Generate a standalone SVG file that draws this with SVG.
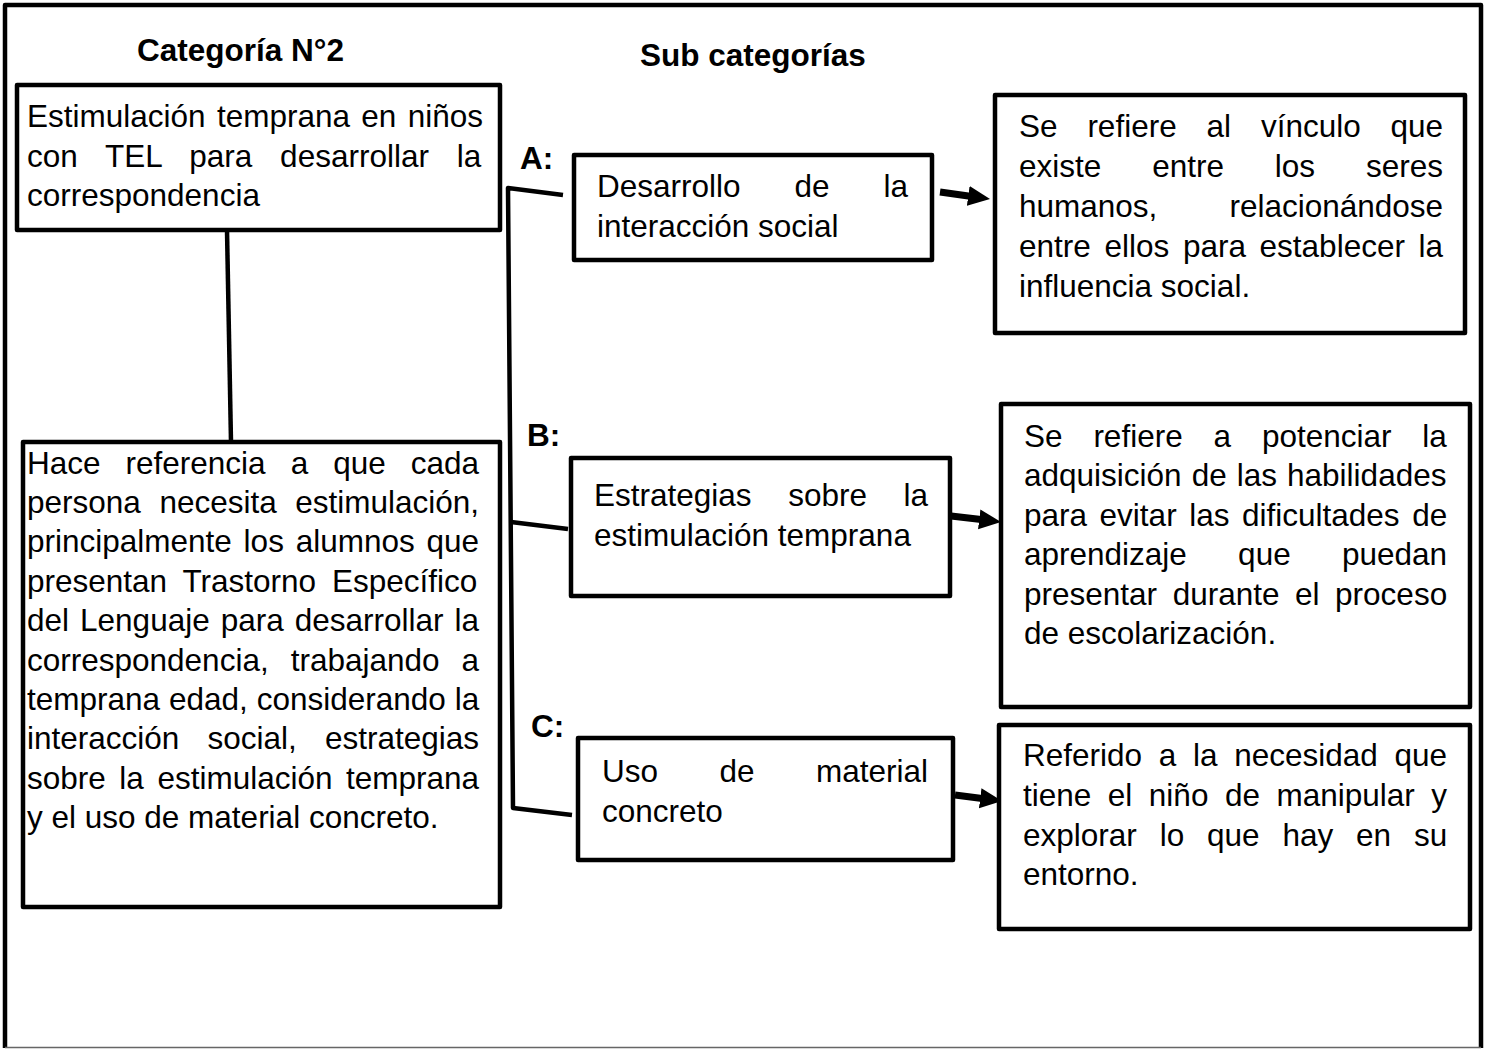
<svg xmlns="http://www.w3.org/2000/svg" width="1491" height="1050" viewBox="0 0 1491 1050">
<style>
.bg{fill:#fff}
.box{fill:#fff;stroke:#000;stroke-width:4.5;stroke-linejoin:round}
.t{font-family:"Liberation Sans",Arial,sans-serif;font-size:31.5px;fill:#000}
.b{font-weight:bold}
.ln{stroke:#000;stroke-width:4.5;fill:none;stroke-linejoin:round}
.arr{stroke:#000;stroke-width:7;fill:none}
</style>
<defs>
<marker id="ah" markerUnits="userSpaceOnUse" markerWidth="24" markerHeight="22" refX="2" refY="10" orient="auto" viewBox="0 0 24 22">
<path d="M0,0 L22,10 L0,20 z" fill="#000"/>
</marker>
</defs>
<rect class="bg" x="0" y="0" width="1491" height="1050"/>
<g id="frame">
<path d="M5,1048 L5,5 L1481,5 L1481,1048" class="ln" stroke-width="4"/>
<line x1="5" y1="1047.5" x2="1481" y2="1047.5" stroke="#666" stroke-width="1.5"/>
</g>
<g id="headings">
<text class="t b" x="137" y="61">Categoría N°2</text>
<text class="t b" x="640" y="66">Sub categorías</text>
<text class="t b" x="520" y="169">A:</text>
<text class="t b" x="527" y="446">B:</text>
<text class="t b" x="531" y="737">C:</text>
</g>
<g id="connectors">
<line class="ln" x1="227" y1="230" x2="231" y2="442"/>
<path class="ln" d="M563,195 L508,188 L513,808 L572,815"/>
<line class="ln" x1="511" y1="522" x2="568" y2="529"/>
<line class="arr" x1="940" y1="192" x2="970.2" y2="196.2" marker-end="url(#ah)"/>
<line class="arr" x1="951" y1="516" x2="981.2" y2="519.6" marker-end="url(#ah)"/>
<line class="arr" x1="955" y1="795" x2="982.2" y2="798.5" marker-end="url(#ah)"/>
</g>
<g id="cat">
<rect class="box" x="17" y="85" width="483" height="145"/>
<text class="t" x="27" y="127" word-spacing="2.6">Estimulación temprana en niños</text>
<text class="t" x="27" y="166.5" word-spacing="19">con TEL para desarrollar la</text>
<text class="t" x="27" y="206">correspondencia</text>
</g>
<g id="desc">
<rect class="box" x="23" y="442" width="477" height="465"/>
<text class="t" x="27" y="473.5" word-spacing="16.27">Hace referencia a que cada</text>
<text class="t" x="27" y="512.9" word-spacing="9.79">persona necesita estimulación,</text>
<text class="t" x="27" y="552.3" word-spacing="3.01">principalmente los alumnos que</text>
<text class="t" x="27" y="591.7" word-spacing="7.14">presentan Trastorno Específico</text>
<text class="t" x="27" y="631.1" word-spacing="2.27">del Lenguaje para desarrollar la</text>
<text class="t" x="27" y="670.5" word-spacing="13.24">correspondencia, trabajando a</text>
<text class="t" x="27" y="709.9" word-spacing="0.14">temprana edad, considerando la</text>
<text class="t" x="27" y="749.3" word-spacing="19.44">interacción social, estrategias</text>
<text class="t" x="27" y="788.7" word-spacing="4.78">sobre la estimulación temprana</text>
<text class="t" x="27" y="828.1">y el uso de material concreto.</text>
</g>
<g id="subA">
<rect class="box" x="574" y="155" width="358" height="105"/>
<text class="t" x="597" y="197" word-spacing="45.2">Desarrollo de la</text>
<text class="t" x="597" y="237">interacción social</text>
</g>
<g id="subB">
<rect class="box" x="571" y="458" width="379" height="138"/>
<text class="t" x="594" y="506" word-spacing="27.8">Estrategias sobre la</text>
<text class="t" x="594" y="546">estimulación temprana</text>
</g>
<g id="subC">
<rect class="box" x="578" y="738" width="375" height="122"/>
<text class="t" x="602" y="782" word-spacing="52.7">Uso de material</text>
<text class="t" x="602" y="821.5">concreto</text>
</g>
<g id="defA">
<rect class="box" x="995" y="95" width="470" height="238"/>
<text class="t" x="1019" y="137" word-spacing="21.1">Se refiere al vínculo que</text>
<text class="t" x="1019" y="177" word-spacing="42.1">existe entre los seres</text>
<text class="t" x="1019" y="217" word-spacing="63.3">humanos, relacionándose</text>
<text class="t" x="1019" y="257" word-spacing="4.9">entre ellos para establecer la</text>
<text class="t" x="1019" y="297">influencia social.</text>
</g>
<g id="defB">
<rect class="box" x="1001" y="404" width="469" height="303"/>
<text class="t" x="1024" y="447" word-spacing="22.1">Se refiere a potenciar la</text>
<text class="t" x="1024" y="486.4" word-spacing="1.3">adquisición de las habilidades</text>
<text class="t" x="1024" y="525.8" word-spacing="3.8">para evitar las dificultades de</text>
<text class="t" x="1024" y="565.2" word-spacing="42.5">aprendizaje que puedan</text>
<text class="t" x="1024" y="604.6" word-spacing="6.8">presentar durante el proceso</text>
<text class="t" x="1024" y="644">de escolarización.</text>
</g>
<g id="defC">
<rect class="box" x="999" y="725" width="471" height="204"/>
<text class="t" x="1023" y="766" word-spacing="7.94">Referido a la necesidad que</text>
<text class="t" x="1023" y="806" word-spacing="7.76">tiene el niño de manipular y</text>
<text class="t" x="1023" y="846" word-spacing="14.1">explorar lo que hay en su</text>
<text class="t" x="1023" y="885">entorno.</text>
</g>
</svg>
